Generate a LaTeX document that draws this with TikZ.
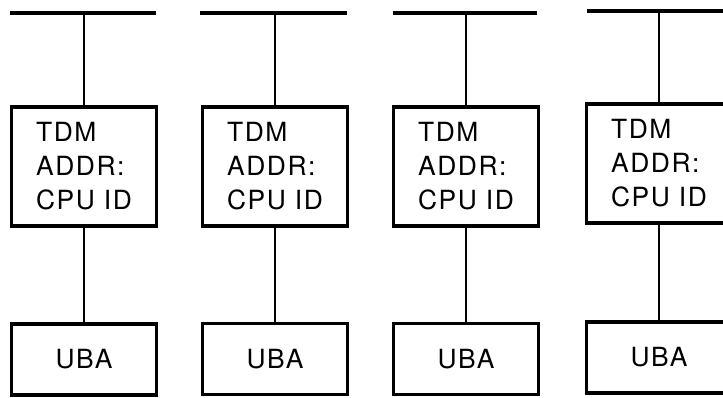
\documentclass[tikz,border=0pt]{standalone}
\usepackage{fontspec}
\setmainfont{TeX Gyre Heros}[LetterSpace=6]
\tikzset{
  bus/.style={line width=1.6pt},
  tap/.style={line width=1pt},
  unitbox/.style={draw,line width=1.6pt,minimum width=72.5pt,inner sep=0pt},
  tdmbox/.style={unitbox,minimum height=59.5pt,align=left,
    font=\fontsize{13.2}{17}\selectfont},
  ubabox/.style={unitbox,minimum height=35.5pt,
    font=\fontsize{13.2}{17}\selectfont},
}

\begin{document}
\begin{tikzpicture}[x=0.5pt,y=-0.5pt]
  \clip (0,0) rectangle (723,397);
  \useasboundingbox (0,0) rectangle (723,397);
  % column: centre x, bus start, bus end, bus y, tdm y, uba y
  \foreach \cx/\ba/\bb/\by/\ty/\uy [count=\i] in {
    84/10/156/13/166.5/359.5,
    275/200/347/13/166.5/359,
    466/393/537/13/166.5/359,
    659/587/740/11/163.5/357.5}{%
    \coordinate (busl\i) at (\ba,\by);
    \coordinate (busr\i) at (\bb,\by);
    \coordinate (tap\i) at (\cx,\by);
    \node[tdmbox] (tdm\i) at (\cx,\ty) {TDM\\ADDR:\\CPU ID};
    \node[ubabox] (uba\i) at (\cx,\uy) {UBA};
    \draw[bus] (busl\i) -- (busr\i);
    \draw[tap] (tap\i) -- (tdm\i.north);
    \draw[tap] (tdm\i.south) -- (uba\i.north);
  }
\end{tikzpicture}
\end{document}
